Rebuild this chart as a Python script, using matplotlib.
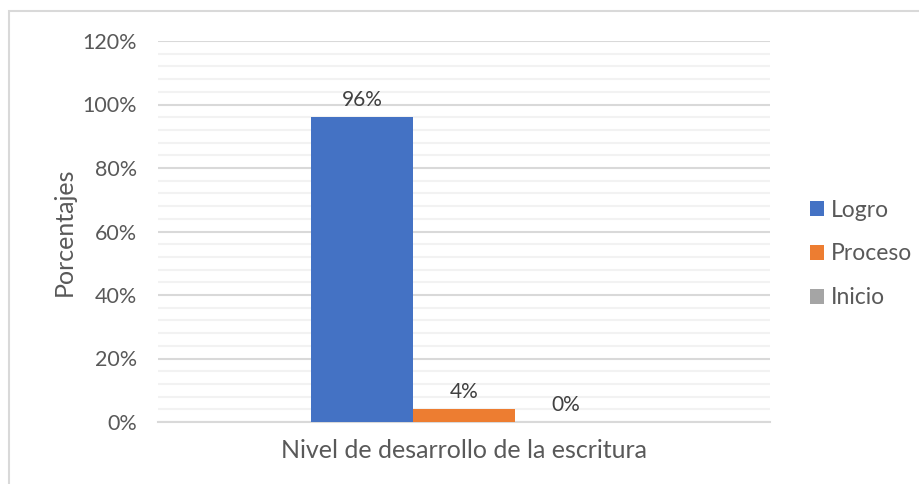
import matplotlib
matplotlib.use("Agg")
import matplotlib.pyplot as plt
from matplotlib.patches import Rectangle
from matplotlib.ticker import MultipleLocator, FuncFormatter

category = "Nivel de desarrollo de la escritura"
series = ["Logro", "Proceso", "Inicio"]
values = [96, 4, 0]
colors = ["#4472C4", "#ED7D31", "#A5A5A5"]
yticks = [0, 20, 40, 60, 80, 100, 120]

plt.rcParams['font.family'] = ['Lato', 'DejaVu Sans']
W, H = 919, 484
fig = plt.figure(figsize=(W/100, H/100), dpi=100)
fig.patch.set_facecolor('white')

# outer chart border (top and left visible)
fig.add_artist(Rectangle((9/W, -0.1), 1.2, (H-11)/H + 0.1, transform=fig.transFigure,
                         fill=False, edgecolor='#D9D9D9', linewidth=1.5))

ax = fig.add_axes([158/W, 1-422/H, (770-158)/W, (422-41)/H])
bw = 1/6
for i, (s, v, c) in enumerate(zip(series, values, colors)):
    x = (i - 1) * bw
    ax.bar(x, v, width=bw, color=c, label=s, zorder=3)
    ax.text(x, v + 2.3, f"{v}%", ha='center', va='bottom', fontsize=15, color='#404040')

ax.set_xlim(-0.5, 0.5)
ax.set_ylim(0, 120)
ax.set_yticks(yticks)
ax.yaxis.set_major_formatter(FuncFormatter(lambda v, p: f"{int(v)}%"))
ax.yaxis.set_minor_locator(MultipleLocator(4))
ax.grid(axis='y', which='major', color='#D9D9D9', linewidth=1.5, zorder=0)
ax.grid(axis='y', which='minor', color='#F2F2F2', linewidth=1.5, zorder=0)
ax.tick_params(axis='y', which='both', length=0, labelsize=15.5, labelcolor='#595959', pad=15)
ax.set_xticks([0])
ax.set_xticklabels([category])
ax.tick_params(axis='x', length=0, labelsize=18, labelcolor='#595959', pad=12)
for sp in ['top', 'right', 'left']:
    ax.spines[sp].set_visible(False)
ax.spines['bottom'].set_color('#D9D9D9')
ax.spines['bottom'].set_linewidth(1.5)
ax.set_ylabel("Porcentajes", fontsize=18, color='#595959')
ax.yaxis.set_label_coords(-82/612, 0.5)

leg = ax.legend(loc='center left', bbox_to_anchor=(652/612, 0.441), frameon=False,
                fontsize=16.5, labelcolor='#595959', handlelength=0.6, handleheight=0.6,
                handletextpad=0.3, labelspacing=1.0, borderaxespad=0, borderpad=0)

fig.savefig("out.png", dpi=100, facecolor='white')
